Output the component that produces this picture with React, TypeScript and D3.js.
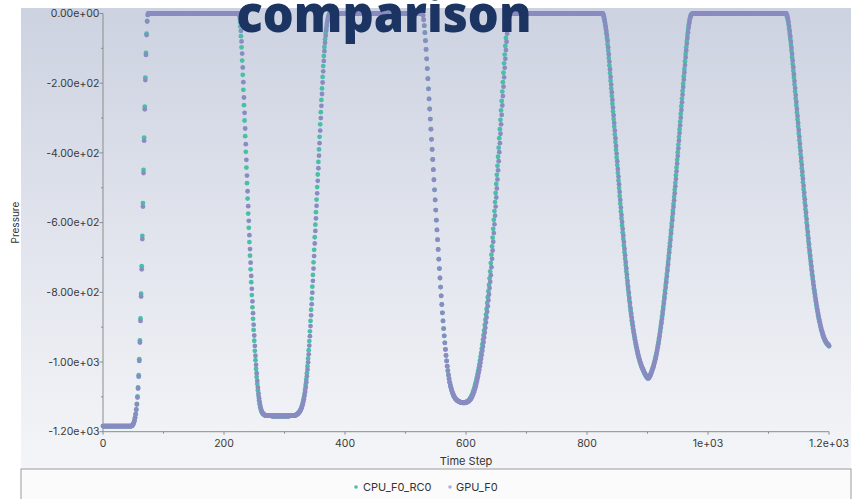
import React from 'react';
import * as d3 from 'd3';

// Time step range and axis ticks
const T_MAX = 1200;
const xTicks = [0, 200, 400, 600, 800, 1000, 1200];
const xTickLabels = ['0', '200', '400', '600', '800', '1e+03', '1.2e+03'];
const xMinor = [100, 300, 500, 700, 900, 1100];
const yTicks = [0, -200, -400, -600, -800, -1000, -1200];
const yTickLabels = ['0.00e+00', '-2.00e+02', '-4.00e+02', '-6.00e+02', '-8.00e+02', '-1.00e+03', '-1.20e+03'];
const yMinor = [-100, -300, -500, -700, -900, -1100];

const seriesNames = ['CPU_F0_RC0', 'GPU_F0'];

// constant stretches: [fromStep, toStep, pressure]
const gpuFlats: [number, number, number][] = [
  [0, 47, -1184], [75, 225, 0], [269, 278, -1154], [279, 308, -1155], [309, 317, -1154],
  [375, 528, 0], [673, 826, 0], [976, 1129, 0],
];
const cpuFlats: [number, number, number][] = [
  [0, 47, -1184], [75, 224, 0], [269, 278, -1154], [279, 308, -1155], [309, 317, -1154],
  [375, 528, 0], [673, 825, 0], [975, 1128, 0],
];

// GPU_F0 transitions, one value per time step
const gpuRise1 = [-1183, -1181, -1178, -1174, -1168, -1160, -1150, -1137, -1122, -1102, -1076, -1042, -997, -944, -882, -812, -734, -647, -554, -458, -365, -275, -191, -119, -62, -23, -4];
const gpuFall1 = [-8, -25, -50, -80, -115, -155, -197, -241, -285, -330, -375, -420, -465, -510, -553, -595, -636, -676, -715, -753, -790, -826, -860, -893, -924, -954, -982, -1008, -1032, -1054, -1073, -1090, -1104, -1116, -1126, -1134, -1140, -1144, -1147, -1149, -1151, -1152, -1153];
const gpuRise2 = [-1153, -1152, -1151, -1150, -1149, -1147, -1145, -1143, -1140, -1137, -1133, -1128, -1122, -1115, -1107, -1097, -1086, -1073, -1058, -1041, -1022, -1001, -978, -953, -926, -897, -866, -834, -801, -767, -732, -696, -660, -624, -588, -552, -516, -480, -444, -408, -372, -336, -300, -265, -231, -198, -166, -136, -108, -84, -64, -48, -35, -24, -15, -8, -3];
const gpuFall2 = [-6, -18, -35, -55, -78, -103, -130, -158, -187, -216, -245, -274, -303, -332, -361, -390, -419, -448, -477, -506, -535, -564, -593, -621, -649, -677, -705, -732, -759, -785, -810, -835, -859, -882, -904, -925, -945, -964, -981, -997, -1012, -1025, -1037, -1048, -1058, -1066, -1073, -1079, -1085, -1090, -1094, -1098, -1101, -1104, -1106, -1108, -1110, -1111, -1112, -1113, -1114, -1115, -1115, -1116, -1116, -1116, -1117, -1117, -1117];
const gpuRise3 = [-1117, -1117, -1116, -1116, -1115, -1114, -1113, -1112, -1110, -1108, -1106, -1103, -1100, -1096, -1092, -1087, -1082, -1076, -1070, -1063, -1056, -1048, -1040, -1031, -1022, -1012, -1002, -991, -980, -968, -956, -943, -930, -916, -902, -887, -872, -856, -840, -823, -806, -788, -770, -751, -728, -704, -680, -655, -630, -605, -580, -554, -528, -502, -476, -450, -424, -398, -372, -345, -318, -291, -264, -237, -210, -183, -156, -130, -105, -81, -58, -38, -21, -9, -2];
const gpuValley3 = [-3, -9, -17, -27, -38, -50, -63, -78, -97, -117, -138, -160, -182, -204, -226, -248, -270, -292, -314, -336, -358, -380, -402, -424, -446, -468, -490, -512,
  -535, -557, -578, -598, -618, -637, -656, -675, -694, -713, -731, -749, -767, -784, -800, -816, -831, -846, -860, -873, -886, -898, -909, -920, -930, -940, -949, -958, -966, -974, -981, -988, -994, -1000, -1005, -1010, -1015, -1019, -1023, -1027, -1031, -1034, -1037, -1040, -1043, -1045, -1047,
  -1046, -1044, -1041, -1037, -1033, -1028, -1023, -1018, -1012, -1006, -1000, -993, -985, -977, -968, -958, -948, -937, -926, -914, -902, -889, -876, -862, -848, -833, -818, -803, -787, -771, -755, -738, -721, -704, -686, -668, -650, -631, -612, -593, -574, -555, -536, -516, -496, -475, -453, -431, -409, -387, -365, -343, -321, -299, -277, -255, -233, -211, -190, -169, -148, -126, -106, -87, -70, -54, -40, -28, -18, -10, -5, -2, -1, 0];
const gpuFall4 = [-2, -7, -14, -24, -36, -50, -65, -81, -98, -116, -135, -154, -174, -194, -214, -234, -254, -274, -294, -314, -334, -354, -374, -394, -414, -434, -454, -474, -494, -514, -533, -552, -571, -590, -609, -627, -645, -662, -679, -695, -711, -726, -741, -755, -769, -782, -795, -807, -819, -830, -841, -851, -861, -870, -879, -887, -895, -902, -909, -915, -921, -926, -931, -935, -939, -942, -945, -947, -949, -951, -953];

// CPU_F0_RC0 transitions
const cpuRise1 = [-1183, -1181, -1178, -1173, -1167, -1159, -1149, -1136, -1120, -1099, -1073, -1038, -992, -938, -875, -804, -725, -638, -544, -449, -356, -267, -184, -113, -58, -21, -4];
const cpuFall1 = [-4, -16, -37, -65, -97, -135, -176, -219, -263, -307, -352, -397, -442, -487, -531, -574, -615, -656, -695, -734, -771, -808, -843, -876, -908, -939, -968, -995, -1020, -1043, -1063, -1081, -1097, -1110, -1121, -1130, -1137, -1142, -1145, -1148, -1150, -1151, -1152, -1153];
const cpuRise2 = [-1153, -1152, -1151, -1150, -1148, -1146, -1144, -1142, -1139, -1135, -1131, -1125, -1119, -1111, -1102, -1092, -1080, -1066, -1050, -1032, -1012, -990, -966, -940, -912, -882, -850, -818, -784, -750, -714, -678, -642, -606, -570, -534, -498, -462, -426, -390, -354, -318, -283, -248, -215, -182, -151, -122, -96, -74, -56, -42, -30, -20, -12, -6, -2];
const cpuFall2 = gpuFall2;
const cpuRise3 = [-1116, -1116, -1115, -1114, -1113, -1112, -1111, -1109, -1107, -1104, -1101, -1098, -1094, -1090, -1084, -1079, -1073, -1066, -1059, -1052, -1044, -1035, -1026, -1017, -1007, -996, -985, -974, -962, -949, -936, -923, -909, -894, -879, -864, -848, -831, -814, -797, -779, -760, -740, -716, -692, -668, -643, -618, -592, -567, -541, -515, -489, -463, -437, -411, -385, -358, -332, -305, -278, -251, -224, -197, -170, -143, -118, -93, -70, -48, -30, -15, -6, -1, 0];
const cpuValley3 = [-2, -6, -13, -22, -33, -44, -57, -71, -88, -107, -128, -149, -171, -193, -215, -237, -259, -281, -303, -325, -347, -369, -391, -413, -435, -457, -479, -501, -524,
  -546, -568, -588, -608, -628, -647, -666, -685, -704, -722, -740, -758, -776, -792, -808, -824, -839, -853, -867, -880, -892, -904, -915, -925, -935, -945, -954, -962, -970, -978, -985, -991, -997, -1003, -1008, -1013, -1017, -1021, -1025, -1029, -1033, -1036, -1039, -1042, -1044, -1046, -1047,
  -1045, -1043, -1039, -1035, -1031, -1026, -1021, -1015, -1009, -1003, -997, -989, -981, -973, -963, -953, -943, -932, -920, -908, -896, -883, -869, -855, -841, -826, -811, -795, -779, -763, -747, -730, -713, -695, -677, -659, -641, -622, -603, -584, -565, -546, -526, -506, -486, -464, -442, -420, -398, -376, -354, -332, -310, -288, -266, -244, -222, -201, -180, -159, -137, -116, -97, -79, -62, -47, -34, -23, -14, -8, -4, -2, -1];
const cpuFall4 = [-1, -5, -11, -19, -30, -43, -58, -73, -90, -107, -126, -145, -164, -184, -204, -224, -244, -264, -284, -304, -324, -344, -364, -384, -404, -424, -444, -464, -484, -504, -524, -543, -562, -581, -600, -618, -636, -654, -671, -687, -703, -719, -734, -748, -762, -776, -789, -801, -813, -825, -836, -846, -856, -866, -875, -883, -891, -899, -906, -912, -918, -924, -929, -933, -937, -941, -944, -946, -948, -950, -952, -955];

const gpuCurves: [number, number[]][] = [[48, gpuRise1], [226, gpuFall1], [318, gpuRise2], [529, gpuFall2], [598, gpuRise3], [827, gpuValley3], [1130, gpuFall4]];
const cpuCurves: [number, number[]][] = [[48, cpuRise1], [225, cpuFall1], [318, cpuRise2], [529, cpuFall2], [598, cpuRise3], [826, cpuValley3], [1129, cpuFall4]];

type Pt = { t: number; v: number };

function buildSeries(flats: [number, number, number][], curves: [number, number[]][]): Pt[] {
  const vals: (number | null)[] = new Array(T_MAX + 1).fill(null);
  flats.forEach(([a, b, v]) => { for (let s = a; s <= b; s++) vals[s] = v; });
  curves.forEach(([start, arr]) => arr.forEach((v, i) => { if (start + i <= T_MAX) vals[start + i] = v; }));
  const out: Pt[] = [];
  vals.forEach((v, t) => { if (v !== null) out.push({ t, v }); });
  return out;
}

const cpuData = buildSeries(cpuFlats, cpuCurves);
const gpuData = buildSeries(gpuFlats, gpuCurves);

const W = 858;
const H = 499;
const font = "Inter, 'DejaVu Sans', sans-serif";

export default function App() {
  const x = d3.scaleLinear().domain([0, T_MAX]).range([103, 829]);
  const y = d3.scaleLinear().domain([-1200, 0]).range([431.7, 13.5]);
  const axisColor = '#8c8c8c';

  return (
    <svg width={W} height={H} style={{ position: 'absolute', left: 0, top: 0, background: '#fff' }}>
      <defs>
        <linearGradient id="panelBg" x1="0" y1="0" x2="0" y2="1">
          <stop offset="0%" stopColor="#cdd2e1" />
          <stop offset="55%" stopColor="#e3e6ee" />
          <stop offset="100%" stopColor="#f4f5f8" />
        </linearGradient>
      </defs>
      <rect x={21} y={8} width={830} height={461} fill="url(#panelBg)" />

      {/* y axis */}
      <line x1={x(0)} x2={x(0)} y1={y(0)} y2={y(-1200)} stroke={axisColor} />
      {yTicks.map((t, i) => (
        <g key={'yt' + t}>
          <line x1={x(0) - 3.5} x2={x(0)} y1={y(t)} y2={y(t)} stroke={axisColor} />
          <text x={99.5} y={y(t)} dy="0.35em" textAnchor="end" fontSize={10.5} fill="#3a3a3a" fontFamily={font}>{yTickLabels[i]}</text>
        </g>
      ))}
      {yMinor.map((t) => (
        <line key={'ym' + t} x1={x(0) - 2} x2={x(0)} y1={y(t)} y2={y(t)} stroke={axisColor} />
      ))}
      <text transform={`translate(15,${(y(0) + y(-1200)) / 2}) rotate(-90)`} textAnchor="middle" dy="0.35em" fontSize={10} fill="#333" fontFamily={font}>Pressure</text>

      {/* x axis */}
      <line x1={x(0)} x2={x(T_MAX)} y1={y(-1200)} y2={y(-1200)} stroke={axisColor} />
      {xTicks.map((t, i) => (
        <g key={'xt' + t}>
          <line x1={x(t)} x2={x(t)} y1={y(-1200)} y2={y(-1200) + 3} stroke={axisColor} />
          <text x={x(t)} y={446.5} textAnchor="middle" fontSize={10.5} fill="#3a3a3a" fontFamily={font}>{xTickLabels[i]}</text>
        </g>
      ))}
      {xMinor.map((t) => (
        <line key={'xm' + t} x1={x(t)} x2={x(t)} y1={y(-1200)} y2={y(-1200) + 2} stroke={axisColor} />
      ))}
      <text x={(x(0) + x(T_MAX)) / 2} y={464.5} textAnchor="middle" fontSize={11} fill="#333" fontFamily={font}>Time Step</text>

      {/* series */}
      <g>
        {cpuData.map((d) => (
          <circle key={'c' + d.t} cx={x(d.t)} cy={y(d.v)} r={2.4} fill="#48bfa6" />
        ))}
      </g>
      <g>
        {gpuData.map((d) => (
          <circle key={'g' + d.t} cx={x(d.t)} cy={y(d.v)} r={2.4} fill="#8a8bc2" />
        ))}
      </g>

      {/* legend */}
      <rect x={21} y={469} width={830} height={40} fill="#fbfbfc" stroke="#9c9c9c" />
      <circle cx={356} cy={487} r={1.8} fill="#48bfa6" />
      <text x={363} y={487} dy="0.35em" fontSize={11} fill="#333" fontFamily={font}>{seriesNames[0]}</text>
      <circle cx={450} cy={487} r={1.8} fill="#aeb0d8" />
      <text x={456} y={487} dy="0.35em" fontSize={11} fill="#333" fontFamily={font}>{seriesNames[1]}</text>

      {/* slide title overlapping the plot */}
      <text x={384} y={32} textAnchor="middle" fontSize={52} fontWeight={800} fill="#1b3461" fontFamily="'Open Sans', sans-serif" textLength={295} lengthAdjust="spacingAndGlyphs">comparison</text>
    </svg>
  );
}
